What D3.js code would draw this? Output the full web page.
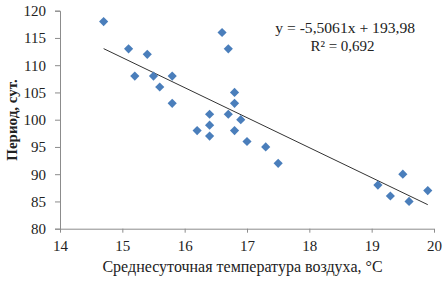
<!DOCTYPE html>
<html><head><meta charset="utf-8">
<script src="https://cdn.jsdelivr.net/npm/d3@7"></script>
<style>body{margin:0;background:#fff}svg{display:block}
svg text{font-family:"Liberation Serif","Times New Roman",Tinos,"DejaVu Serif",serif !important;}</style>
</head><body>
<script>
const temps = [14.7,15.1,15.4,15.2,15.5,15.8,15.6,15.8,16.6,16.7,16.8,16.8,16.4,16.7,16.9,16.2,16.4,16.4,16.8,17.0,17.3,17.5,19.1,19.3,19.5,19.6,19.9];
const periods = [118,113,112,108,108,108,106,103,116,113,105,103,101,101,100,98,99,97,98,96,95,92,88,86,90,85,87];
const xTicks = [14,15,16,17,18,19,20];
const yTicks = [80,85,90,95,100,105,110,115,120];
const slope = -5.5061, intercept = 193.98;
const eqText = "y = -5,5061x + 193,98";
const r2Text = "R² = 0,692";
const xTitle = "Среднесуточная температура воздуха, °C";
const yTitle = "Период, сут.";

const W = 446, H = 282;
const svg = d3.select("body").append("svg").attr("width", W).attr("height", H);
const x = d3.scaleLinear().domain([14,20]).range([60,434]);
const y = d3.scaleLinear().domain([80,120]).range([228.7,10.7]);

const xa = svg.append("g").attr("transform","translate(0,228.7)")
  .call(d3.axisBottom(x).tickValues(xTicks).tickSize(4).tickPadding(8).tickFormat(d3.format("d")));
const ya = svg.append("g").attr("transform","translate(60,0)")
  .call(d3.axisLeft(y).tickValues(yTicks).tickSize(5).tickPadding(9).tickFormat(d3.format("d")));
[xa,ya].forEach(a=>{
  a.selectAll("path,line").attr("stroke","#8c8c8c").attr("stroke-width",1);
  a.selectAll("text").attr("font-size",15).attr("fill","#222");
});
xa.select(".domain").attr("d","M60,0.5H434");

// trendline
const xmin = d3.min(temps), xmax = d3.max(temps);
svg.append("line")
  .attr("x1",x(xmin)).attr("y1",y(slope*xmin+intercept))
  .attr("x2",x(xmax)).attr("y2",y(slope*xmax+intercept))
  .attr("stroke","#333").attr("stroke-width",1);

// points
svg.append("g").selectAll("path").data(temps.map((t,i)=>[t,periods[i]])).join("path")
  .attr("transform",d=>`translate(${x(d[0])},${y(d[1])}) rotate(45)`)
  .attr("d", d3.symbol().type(d3.symbolSquare).size(42))
  .attr("fill","#4a7ebb");

svg.append("text").attr("x",415).attr("y",33).attr("text-anchor","end")
  .attr("font-size",15.6).attr("fill","#222").text(eqText);
svg.append("text").attr("x",342.5).attr("y",51).attr("text-anchor","middle")
  .attr("font-size",15).attr("fill","#222").text(r2Text);

svg.append("text").attr("x",242.5).attr("y",272).attr("text-anchor","middle")
  .attr("font-size",16).attr("fill","#222").text(xTitle);
svg.append("text").attr("transform","translate(17,120) rotate(-90)").attr("text-anchor","middle")
  .attr("font-size",15).attr("font-weight","bold").attr("fill","#222").text(yTitle);
</script>
</body></html>
